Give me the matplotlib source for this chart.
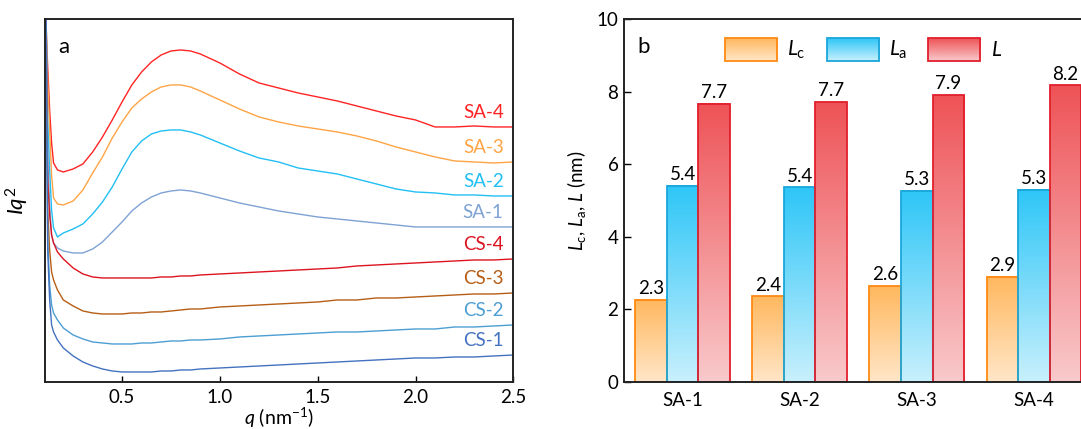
import numpy as np
import matplotlib
matplotlib.use('Agg')
import matplotlib.pyplot as plt
from matplotlib.colors import LinearSegmentedColormap
from matplotlib.patches import Rectangle
from matplotlib.legend_handler import HandlerBase
from matplotlib.image import BboxImage
from matplotlib.transforms import Bbox, TransformedBbox

plt.rcParams['font.family'] = ['Lato', 'DejaVu Sans']
plt.rcParams['mathtext.fontset'] = 'custom'
plt.rcParams['mathtext.rm'] = 'Lato'
plt.rcParams['mathtext.it'] = 'Lato:italic'
plt.rcParams['mathtext.bf'] = 'Lato:bold'

# ---- (a) SAXS Lorentz-corrected curves, Iq^2 (arb. units, stacked) ----
q = [0.11, 0.12, 0.13, 0.14, 0.15, 0.17, 0.2, 0.25, 0.3, 0.35, 0.4, 0.45, 0.5,
     0.55, 0.6, 0.65, 0.7, 0.75, 0.8, 0.85, 0.9, 1.0, 1.1, 1.2, 1.3, 1.4, 1.5,
     1.6, 1.7, 1.8, 1.9, 2.0, 2.1, 2.2, 2.3, 2.4, 2.5]

sa4 = [365, 315, 272, 239, 219, 212, 210, 213, 218, 230, 245, 262, 280, 297, 310,
       320, 327, 331, 332, 331, 328, 319, 308, 299, 294, 289, 285, 281, 276, 271,
       266, 262, 255, 255, 256, 255, 255]
sa3 = [375, 302, 252, 207, 184, 178, 177, 181, 192, 209, 225, 244, 260, 274, 283,
       290, 295, 297, 297, 295, 291, 282, 273, 265, 260, 256, 253, 250, 246, 241,
       235, 230, 225, 221, 220, 219, 220]
sa2 = [390, 262, 212, 172, 154, 145, 149, 153, 158, 168, 180, 195, 213, 230, 241,
       248, 251, 252, 252, 250, 247, 239, 231, 224, 220, 214, 211, 208, 203, 198,
       193, 190, 189, 187, 187, 186, 186]
sa1 = [395, 222, 177, 147, 139, 134, 131, 129, 129, 133, 140, 150, 160, 171, 179,
       185, 189, 191, 192, 191, 189, 184, 179, 175, 171, 168, 165, 163, 161, 159,
       157, 155, 155, 155, 155, 155, 155]
cs4 = [400, 202, 167, 147, 139, 130, 123, 114, 108, 105, 104, 104, 104, 104, 104,
       104, 105, 105, 106, 106, 107, 108, 109, 110, 111, 112, 113, 114, 116, 117,
       118, 119, 120, 121, 122, 122, 123]
cs3 = [400, 172, 132, 110, 102, 92, 82, 76, 71, 69, 68, 68, 68, 69, 69,
       70, 70, 71, 72, 73, 73, 75, 76, 77, 78, 79, 80, 82, 82, 84,
       84, 85, 86, 87, 88, 88, 89]
cs2 = [405, 142, 97, 77, 69, 62, 54, 47, 43, 40, 39, 38, 38, 38, 39,
       39, 40, 41, 41, 42, 42, 43, 45, 46, 47, 48, 49, 50, 50, 51,
       52, 53, 53, 55, 55, 56, 57]
cs1 = [410, 132, 82, 57, 50, 42, 34, 26, 20, 16, 13, 11, 10, 10, 10,
       10, 11, 11, 12, 12, 13, 14, 15, 16, 17, 18, 19, 20, 21, 22,
       23, 24, 24, 25, 25, 26, 27]

curve_names = ['SA-4', 'SA-3', 'SA-2', 'SA-1', 'CS-4', 'CS-3', 'CS-2', 'CS-1']
curve_data = [sa4, sa3, sa2, sa1, cs4, cs3, cs2, cs1]
curve_colors = ['#FF2424', '#FFA445', '#22BFF3', '#7FA2D4',
                '#DD1420', '#B65E16', '#4C9ED3', '#4472C0']

# ---- (b) lamellar parameters ----
samples = ['SA-1', 'SA-2', 'SA-3', 'SA-4']
Lc = [2.27, 2.36, 2.64, 2.90]
La = [5.40, 5.36, 5.27, 5.29]
L = [7.67, 7.71, 7.90, 8.17]

# (bottom colour, top colour, edge colour)
bar_styles = [('#FFE6C8', '#FFB85E', '#FF8A12'),
              ('#C8F0FD', '#2EC6F7', '#1AA6DB'),
              ('#F9C9CB', '#EE5357', '#E21F2C')]


class GradientHandler(HandlerBase):
    def __init__(self, cmap, edge):
        super().__init__()
        self.cmap = cmap
        self.edge = edge

    def create_artists(self, legend, orig_handle, xdescent, ydescent,
                       width, height, fontsize, trans):
        bb = TransformedBbox(Bbox.from_bounds(-xdescent, -ydescent, width, height), trans)
        img = BboxImage(bb, cmap=self.cmap, interpolation='bicubic', origin='lower')
        img.set_data(np.linspace(0, 1, 64).reshape(-1, 1))
        rect = Rectangle((-xdescent, -ydescent), width, height, facecolor='none',
                         edgecolor=self.edge, lw=1.3, transform=trans)
        return [img, rect]


fig = plt.figure(figsize=(10.81, 4.29), dpi=100)
ax1 = fig.add_axes([0.0414, 0.1096, 0.4335, 0.8462])
ax2 = fig.add_axes([0.5772, 0.1096, 0.4335, 0.8462])

# panel a
for name, y, c in zip(curve_names, curve_data, curve_colors):
    ax1.plot(q, y, color=c, lw=1.0)
    ax1.annotate(name, xy=(q[-1], y[-1]), xytext=(-7, 4), textcoords='offset points',
                 ha='right', va='bottom', color=c, fontsize=13.5)
ax1.set_xlim(0.105, 2.5)
ax1.set_ylim(0, 363)
ax1.set_yticks([])
ax1.set_xticks([0.5, 1.0, 1.5, 2.0, 2.5])
ax1.set_xticklabels(['0.5', '1.0', '1.5', '2.0', '2.5'])
ax1.tick_params(axis='x', direction='in', length=4, width=1, labelsize=13.5, pad=5)
ax1.set_xlabel(r'$q$ (nm$^{-1}$)', fontsize=14, labelpad=0)
ax1.set_ylabel(r'$Iq^2$', fontsize=16, labelpad=10)
ax1.text(0.04, 0.923, 'a', transform=ax1.transAxes, ha='center', va='center', fontsize=16)
for s in ax1.spines.values():
    s.set_linewidth(1.4)
    s.set_color('#222222')

# panel b
x = np.arange(len(samples))
w = 0.27
handles = []
handler_map = {}
for k, (vals, lab) in enumerate(zip([Lc, La, L], [r'$L_\mathrm{c}$', r'$L_\mathrm{a}$', r'$L$'])):
    lo, hi, edge = bar_styles[k]
    cmap = LinearSegmentedColormap.from_list(f'g{k}', [lo, hi])
    xs = x + (k - 1) * w
    for xi, v in zip(xs, vals):
        ax2.imshow(np.linspace(0, 1, 128).reshape(-1, 1), cmap=cmap, origin='lower',
                   extent=(xi - w / 2, xi + w / 2, 0, v), aspect='auto',
                   interpolation='bicubic', zorder=1)
    bars = ax2.bar(xs, vals, w, facecolor='none', edgecolor=edge, lw=1.3, zorder=2)
    ax2.bar_label(bars, fmt='%.1f', padding=2, fontsize=13.5)
    h = Rectangle((0, 0), 1, 1, label=lab)
    handles.append(h)
    handler_map[h] = GradientHandler(cmap, edge)

ax2.set_xlim(-0.5, 3.5)
ax2.set_ylim(0, 10)
ax2.set_yticks([0, 2, 4, 6, 8, 10])
ax2.set_xticks(x)
ax2.set_xticklabels(samples)
ax2.tick_params(axis='y', direction='in', length=5, width=1, labelsize=13.5, pad=4)
ax2.tick_params(axis='x', length=0, labelsize=13.5, pad=7)
ax2.set_ylabel(r'$L_\mathrm{c}$, $L_\mathrm{a}$, $L$ (nm)', fontsize=13.5, labelpad=6)
ax2.text(0.0415, 0.923, 'b', transform=ax2.transAxes, ha='center', va='center', fontsize=16)
ax2.legend(handles=handles, handler_map=handler_map, loc='upper left',
           bbox_to_anchor=(0.215, 0.948), ncol=3, frameon=False, fontsize=15,
           handlelength=2.5, handleheight=1.3, handletextpad=0.5,
           columnspacing=1.0, borderpad=0, borderaxespad=0)
for s in ax2.spines.values():
    s.set_linewidth(1.4)
    s.set_color('#222222')

fig.savefig('out.png', dpi=100)
